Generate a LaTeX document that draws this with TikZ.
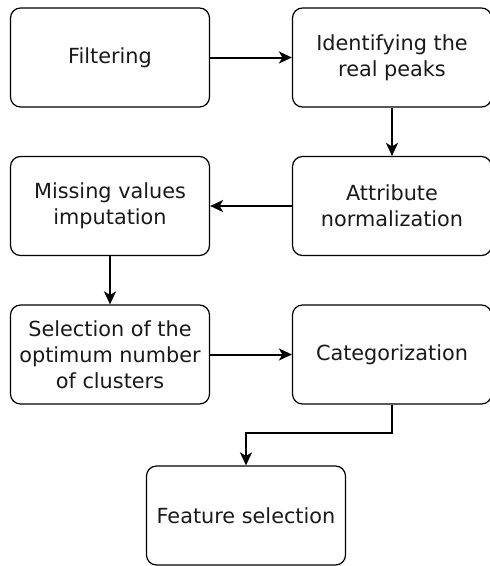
\documentclass[tikz,border=0pt]{standalone}
\usepackage{fontspec}
\setmainfont{DejaVu Sans}
\usetikzlibrary{arrows.meta}
\begin{document}
\begin{tikzpicture}[x=1pt,y=-1pt,
  box/.style={draw=black,line width=1.2pt,rounded corners=10pt,minimum width=199pt,minimum height=99pt,align=center,inner sep=0pt,
    font=\fontsize{20.8}{26}\selectfont,text=black!90},
  conn/.style={line width=2pt,-{Stealth[length=13pt,width=12pt,inset=3.5pt]}}]
\useasboundingbox (0,0) rectangle (490,566);
\node[box] (filt) at (110,57.5) {Filtering};
\node[box] (peaks) at (392,57.5) {Identifying the\\real peaks};
\node[box] (norm) at (392,206) {Attribute\\normalization};
\node[box] (miss) at (110,206) {Missing values\\imputation};
\node[box] (sel) at (110,354.5) {Selection of the\\optimum number\\of clusters};
\node[box] (cat) at (392,354.5) {Categorization};
\node[box] (feat) at (246,515.5) {Feature selection};
\coordinate (bend1) at (392,433);
\coordinate (bend2) at (246,433);
\draw[conn] (filt) -- (peaks);
\draw[conn] (peaks) -- (norm);
\draw[conn] (norm) -- (miss);
\draw[conn] (miss) -- (sel);
\draw[conn] (sel) -- (cat);
\draw[conn] (cat.south) -- (bend1) -- (bend2) -- (feat.north);
\end{tikzpicture}
\end{document}
